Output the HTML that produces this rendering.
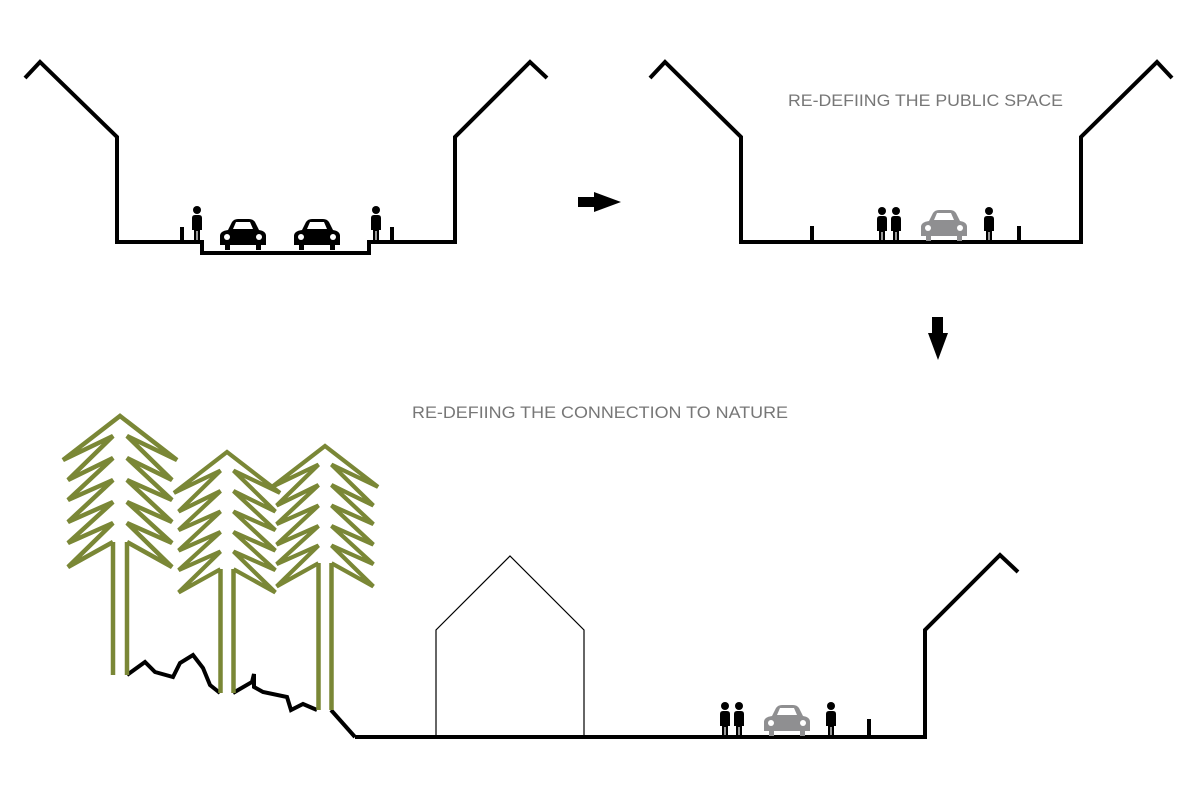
<!DOCTYPE html>
<html><head><meta charset="utf-8"><style>html,body{margin:0;padding:0;background:#fff}svg{display:block}</style></head>
<body>
<svg width="1200" height="800" viewBox="0 0 1200 800" xmlns="http://www.w3.org/2000/svg">
<defs>
<g id="p">
<circle cx="0" cy="4" r="4"/>
<path d="M-5,12 Q-5,9 -2,9 L2,9 Q5,9 5,12 L5,24 L3,24 L3,35 L0.6,35 L0.6,25 L-0.6,25 L-0.6,35 L-3,35 L-3,24 L-5,24 Z"/>
</g>
<g id="car">
<path d="M8,11 L12,3 Q14,0 18,0 L29,0 Q33,0 35,3 L39,11 Q46,12 46,17 L46,26 L41,26 L41,31 L36,31 L36,26 L10,26 L10,31 L5,31 L5,26 L0,26 L0,17 Q0,12 8,11 Z M13,10 L33,10 L30,3 L16,3 Z" fill-rule="evenodd"/>
<circle cx="7" cy="18" r="3" fill="#fff"/><circle cx="39" cy="18" r="3" fill="#fff"/>
</g>
<g id="tree" fill="none" stroke="#7a8736" stroke-width="4.5" stroke-linejoin="miter" stroke-miterlimit="2">
<polyline points="-7,126 -52,151 -7,107 -52,127 -7,86 -52,106 -7,64 -52,84 -7,42 -52,64 -7,20 -57,44 0,0 57,44 7,20 52,64 7,42 52,84 7,64 52,106 7,86 52,127 7,107 52,151 7,126"/>
</g>
</defs>
<g fill="none" stroke="#000" stroke-width="4" stroke-linejoin="miter">
<polyline points="25,78 40,62 117,137 117,242 202,242 202,253 369,253 369,242 455,242 455,137 530,62 547,78"/>
<line x1="182" y1="227" x2="182" y2="242"/><line x1="392" y1="227" x2="392" y2="242"/>
<polyline points="650,78 665,62 741,137 741,242 1081,242 1081,137 1157,62 1172,78"/>
<line x1="812" y1="226" x2="812" y2="242"/><line x1="1019" y1="226" x2="1019" y2="242"/>
<polyline points="355,737 925,737 925,630 1000,555 1018,572"/>
<line x1="869" y1="719" x2="869" y2="737"/>
<polyline points="127,675 145,662 155,672 173,677 180,663 193,655 203,668 210,685 220,693"/>
<polyline points="233,693 252,682 254,674 254,687 263,692 287,697 291,710 303,704 317,710"/>
<polyline points="331,710 355,737"/>
</g>
<polyline points="436,737 436,630 510,556 584,630 584,737" fill="none" stroke="#000" stroke-width="1.2"/>
<use href="#tree" transform="translate(120,416)"/>
<use href="#tree" transform="translate(227,452) scale(0.93,0.93)"/>
<use href="#tree" transform="translate(325,446) scale(0.93,0.93)"/>
<g stroke="#7a8736" stroke-width="4.5">
<line x1="113" y1="542" x2="113" y2="675"/><line x1="127" y1="542" x2="127" y2="675"/>
<line x1="220.5" y1="569" x2="220.5" y2="693"/><line x1="233.5" y1="569" x2="233.5" y2="693"/>
<line x1="318.5" y1="563" x2="318.5" y2="710"/><line x1="331.5" y1="563" x2="331.5" y2="710"/>
</g>
<g fill="#000">
<use href="#p" x="197" y="206"/><use href="#p" x="376" y="206"/>
<use href="#car" x="220" y="219"/><use href="#car" x="294" y="219"/>
<use href="#p" x="882" y="207"/><use href="#p" x="896" y="207"/><use href="#p" x="989" y="207"/>
<use href="#p" x="725" y="702"/><use href="#p" x="739" y="702"/><use href="#p" x="831" y="702"/>
<path d="M578,197 L594,197 L594,192 L621,202 L594,212 L594,207 L578,207 Z"/>
<path d="M932,317 L943,317 L943,333 L948,333 L938,360 L928,333 L932,333 Z"/>
</g>
<g fill="#8f8f91">
<use href="#car" x="921" y="210"/>
<use href="#car" x="764" y="705"/>
</g>
<g font-family="Liberation Sans, sans-serif" font-size="17" fill="#777">
<text x="788" y="106" textLength="275" lengthAdjust="spacingAndGlyphs">RE-DEFIING THE PUBLIC SPACE</text>
<text x="412" y="418" textLength="376" lengthAdjust="spacingAndGlyphs">RE-DEFIING THE CONNECTION TO NATURE</text>
</g>
</svg>
</body></html>
